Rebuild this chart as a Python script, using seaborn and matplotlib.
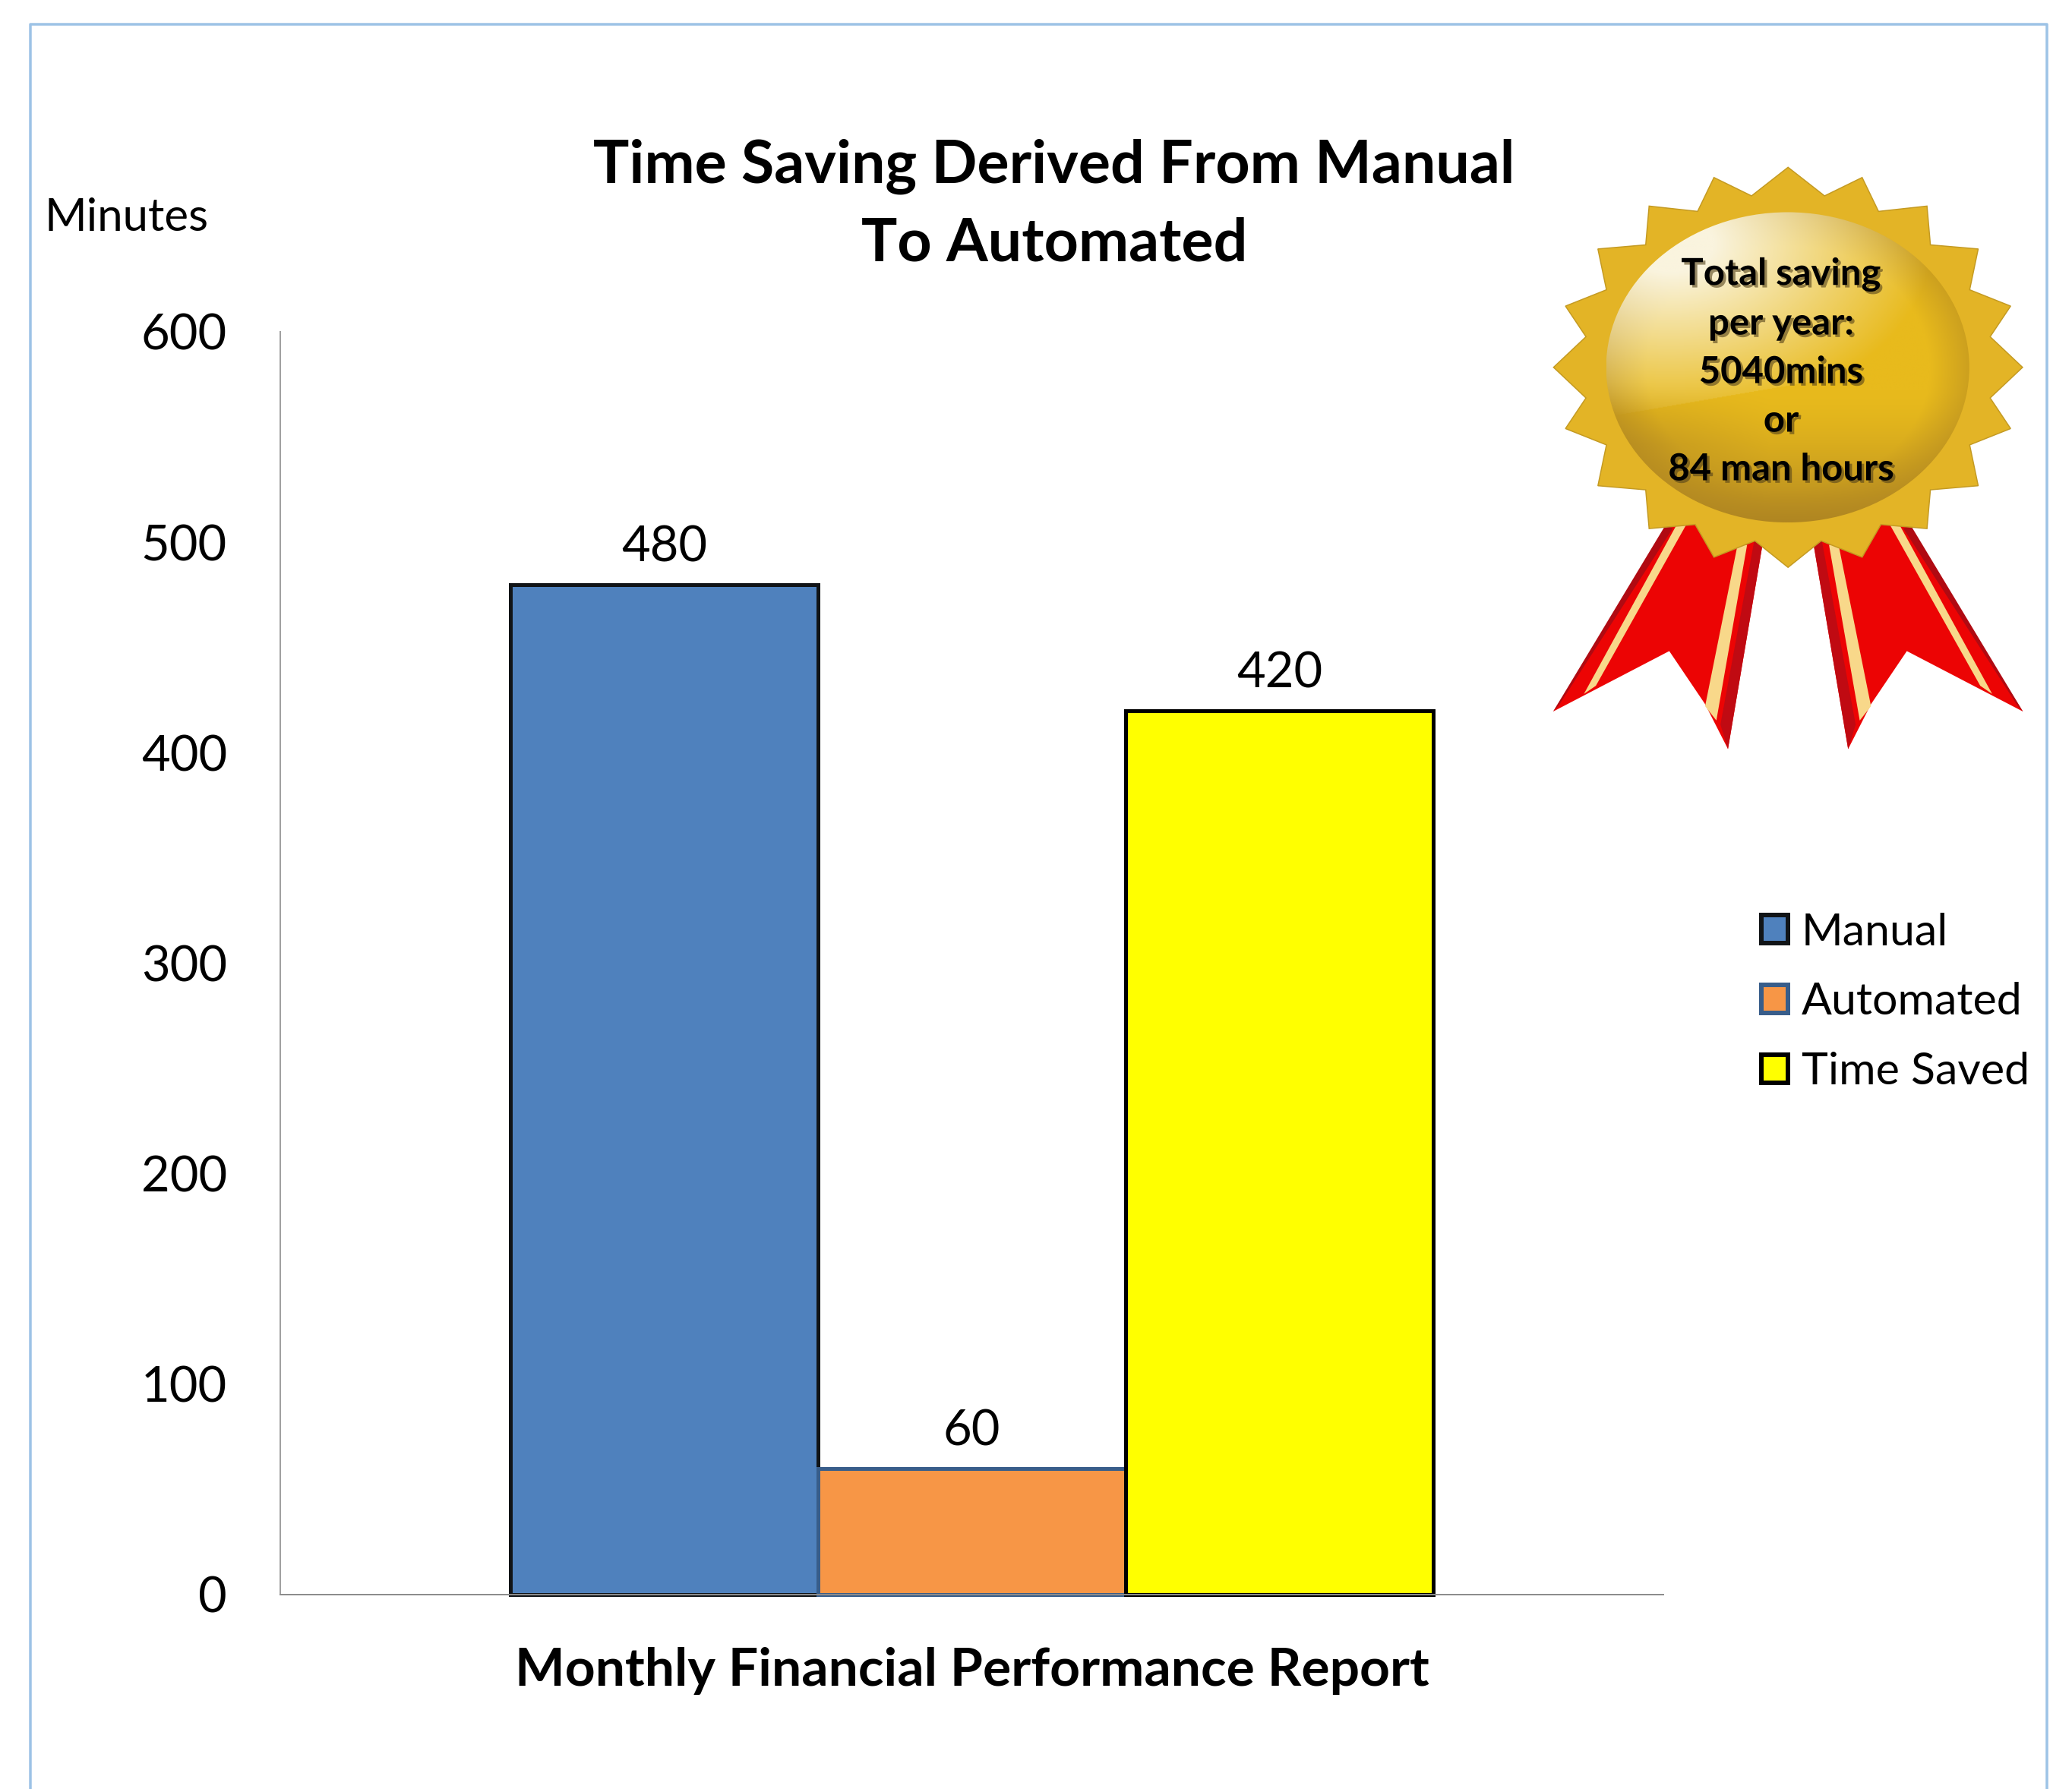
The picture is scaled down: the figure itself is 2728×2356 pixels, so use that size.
import matplotlib
matplotlib.use('Agg')
import matplotlib.pyplot as plt
import matplotlib.patheffects as pe
from matplotlib.lines import Line2D
from matplotlib.patches import Ellipse, Polygon
import numpy as np
import pandas as pd
import seaborn as sns

W, H = 2728, 2356
DPI = 200

series = ['Manual', 'Automated', 'Time Saved']
minutes = [480, 60, 420]
report = ['Monthly Financial Performance Report']
y_ticks = [0, 100, 200, 300, 400, 500, 600]
fills = ['#4F81BD', '#F79646', '#FFFF00']
edges = ['#111417', '#385D8A', '#000000']
badge_lines = ['Total saving', 'per year:', '5040mins', 'or', '84 man hours']

sns.set_style('white')
plt.rcParams['font.family'] = ['Lato', 'DejaVu Sans']

df = pd.DataFrame({'Report': report * 3, 'Series': series, 'Minutes': minutes})

fig = plt.figure(figsize=(W / DPI, H / DPI), dpi=DPI, facecolor='white')
ax = fig.add_axes([369 / W, 1 - 2100 / H, (2190 - 369) / W, (2100 - 437) / H])


def pt(px):
    return px * 72 / DPI


g = sns.barplot(data=df, x='Report', y='Minutes', hue='Series', palette=fills,
                saturation=1, width=0.667, gap=0, ax=ax, legend=False)

for cont, ec, val in zip(g.containers, edges, minutes):
    for p in cont:
        p.set_edgecolor(ec)
        p.set_linewidth(pt(5))
        p.set_clip_on(False)
    g.bar_label(cont, labels=[str(val)], fontsize=pt(65), padding=pt(19), color='black')

g.set_ylim(0, 600)
g.set_yticks(y_ticks)
g.set_xlabel('')
g.set_ylabel('')
g.tick_params(axis='y', length=0, pad=pt(70), labelsize=pt(65), labelcolor='black')
g.tick_params(axis='x', length=0, pad=pt(69))
for lab in g.get_xticklabels():
    lab.set_fontsize(pt(69.5))
    lab.set_fontweight('bold')
    lab.set_color('black')

sns.despine(ax=g, top=True, right=True)
g.spines['left'].set_color('#A0A0A0')
g.spines['bottom'].set_color('#8C8C8C')
g.spines['left'].set_linewidth(pt(2))
g.spines['bottom'].set_linewidth(pt(2))
g.spines['bottom'].set_zorder(5)

leg = g.legend(g.containers, series, loc='center left', frameon=False,
               bbox_to_anchor=(2319 / W, 1 - 1320 / H), bbox_transform=fig.transFigure,
               fontsize=pt(59), handlelength=0.6, handleheight=0.6, handletextpad=0.3,
               labelspacing=0.66, borderpad=0, borderaxespad=0, labelcolor='black')
for h in leg.legend_handles:
    h.set_linewidth(pt(6))

# page frame and free text, overlay uses picture pixels
over = fig.add_axes([0, 0, 1, 1], facecolor='none')
over.set_xlim(0, W)
over.set_ylim(H, 0)
over.axis('off')

over.add_line(Line2D([40, 40, 2695, 2695], [H, 32, 32, H], color='#9DC3E6', lw=pt(3.5)))

over.text(1388, 219, 'Time Saving Derived From Manual', ha='center', va='center',
          fontsize=pt(79), fontweight='bold', color='black')
over.text(1388, 321, 'To Automated', ha='center', va='center',
          fontsize=pt(79), fontweight='bold', color='black')
over.text(59, 287, 'Minutes', ha='left', va='center', fontsize=pt(60), color='black')


# badge, outline read in the zoomed crop
def zx(x):
    return 2000 + np.asarray(x, dtype=float) / 2.225


def zy(y):
    return 180 + np.asarray(y, dtype=float) / 1.86


def poly(xs, ys, color, z, mirror=False):
    xs = np.asarray(xs, dtype=float)
    if mirror:
        xs = 2 * 788 - xs
    over.add_patch(Polygon(np.c_[zx(xs), zy(ys)], closed=True, fc=color, ec='none', zorder=z))


for m in [False, True]:
    poly([445, 100, 440, 545, 612, 715, 560], [950, 1408, 1260, 1390, 1500, 990, 950], '#EC0404', 3, m)
    poly([430, 450, 115, 100], [950, 960, 1395, 1408], '#B00A12', 3.1, m)
    poly([690, 715, 612, 590], [985, 990, 1500, 1440], '#C00A12', 3.1, m)
    poly([462, 490, 225, 190], [950, 950, 1345, 1365], '#F8D88A', 3.2, m)
    poly([640, 668, 578, 545], [1000, 1000, 1430, 1395], '#F8D88A', 3.2, m)

tips = [(788, 75), (895, 145), (1005, 100), (1053, 183), (1195, 170), (1205, 265),
        (1345, 275), (1320, 375), (1440, 415), (1380, 490), (1475, 565), (1380, 640),
        (1440, 715), (1320, 755), (1345, 855), (1205, 865), (1195, 960), (1060, 950),
        (1005, 1030), (885, 990), (788, 1055)]
right = np.array(tips, dtype=float)
left = right[-2:0:-1].copy()
left[:, 0] = 2 * 788 - left[:, 0]
star = np.vstack([right, left])
over.add_patch(Polygon(np.c_[zx(star[:, 0]), zy(star[:, 1])], closed=True,
                       fc='#E3B426', ec='#C49A22', lw=pt(1.5), zorder=4))

# ellipse with painted gold shading
cx, cy = zx(787), zy(565)
rx, ry = 532 / 2.225, 380 / 1.86
xx, yy = np.meshgrid(np.linspace(-1, 1, 400), np.linspace(-1, 1, 400))
gold = np.array([232, 186, 28]) / 255
dark = np.array([176, 134, 34]) / 255
cream = np.array([250, 244, 222]) / 255
shade = np.clip((yy - 0.15) / 0.85, 0, 1)[..., None] ** 1.5
side = np.clip((-xx - 0.1) / 0.9, 0, 1)[..., None] * np.clip((yy - 0.1) / 0.4, 0, 1)[..., None]
rim = np.clip((np.hypot(xx, yy) - 0.78) / 0.22, 0, 1)[..., None]
img = gold * (1 - shade) + dark * shade
img = img * (1 - 0.6 * side) + dark * 0.6 * side
img = img * (1 - 0.5 * rim) + dark * 0.5 * rim
glow = np.clip(1.2 - np.hypot((xx + 0.65) / 1.2, (yy + 0.8) / 0.95), 0, 1)[..., None]
cap = (yy < 0.12 - 0.2 * xx)[..., None]
img = img * (1 - glow * cap) + cream * glow * cap
im = over.imshow(img, extent=(cx - rx, cx + rx, cy + ry, cy - ry), zorder=5, aspect='auto')
clip = Ellipse((cx, cy), 2 * rx, 2 * ry, transform=over.transData, fc='none', ec='none')
over.add_patch(clip)
im.set_clip_path(clip)
over.set_xlim(0, W)
over.set_ylim(H, 0)

for line, y in zip(badge_lines, [361, 426, 490, 554, 618]):
    over.text(2345, y, line, ha='center', va='center', fontsize=pt(49), fontweight='bold',
              color='black', zorder=6,
              path_effects=[pe.SimplePatchShadow(offset=(1.2, -1.2), shadow_rgbFace='#55431A', alpha=0.6),
                            pe.Normal()])

fig.savefig('out.png', dpi=DPI, facecolor='white')
